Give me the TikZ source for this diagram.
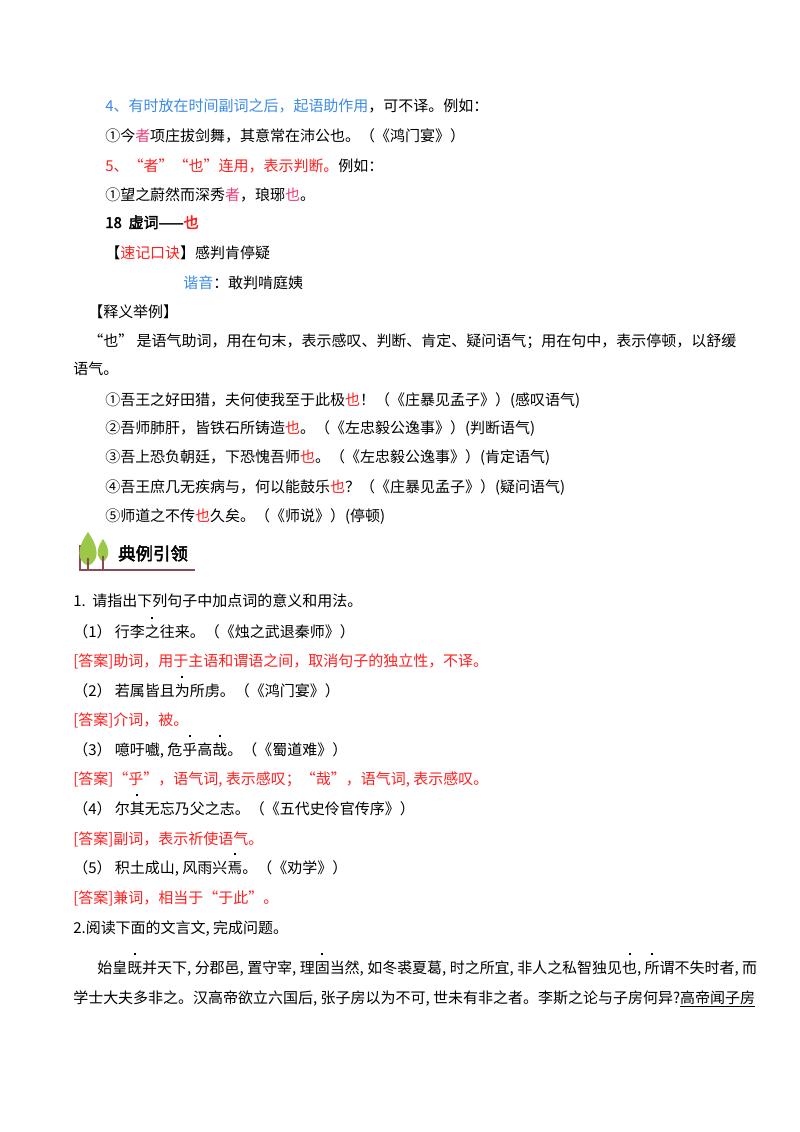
\documentclass[tikz,border=0pt]{standalone}
\usepackage{fontspec}
\setmainfont[AutoFakeBold=2.5]{Noto Sans CJK SC}
\definecolor{bl}{HTML}{3C8CE6}
\definecolor{rd}{HTML}{FF2020}
\definecolor{pk}{HTML}{F03C78}
\definecolor{lf}{HTML}{9CC84A}
\definecolor{br}{HTML}{8C4A55}
\newcommand\Bc[1]{\textcolor{bl}{#1}}
\newcommand\Rc[1]{\textcolor{rd}{#1}}
\newcommand\Pc[1]{\textcolor{pk}{#1}}
\newcommand\dt[1]{\ooalign{#1\cr\hidewidth\raisebox{1.18em}{\rule{1.4pt}{1.4pt}}\hidewidth\cr}}
\begin{document}
\begin{tikzpicture}[x=0.747pt,y=0.747pt,
  ln/.style={anchor=base west,inner sep=0pt,font=\fontsize{11.2}{13}\selectfont}]
\useasboundingbox (0,0) rectangle (800,-1132);
\fill[white] (0,0) rectangle (800,-1132);
\node[ln] (l1) at (105,-111) {\Bc{4、有时放在时间副词之后，起语助作用}，可不译。例如：};
\node[ln] (l2) at (105,-141) {①今\Pc{者}项庄拔剑舞，其意常在沛公也。（《鸿门宴》）};
\node[ln] (l3) at (105,-171) {\Rc{5、“者”“也”连用，表示判断。}例如：};
\node[ln] (l4) at (105,-200) {①望之蔚然而深秀\Pc{者}，琅琊\Pc{也}。};
\node[ln] (l5) at (105,-228) {\textbf{18\ \ 虚词——\Rc{也}}};
\node[ln] (l6) at (105,-258) {【\Rc{速记口诀}】感判肯停疑};
\node[ln] (l7) at (183,-288) {\Bc{谐音}：敢判啃庭姨};
\node[ln] (l8) at (88,-317) {【释义举例】};
\node[ln] (l9) at (88,-346) {“也” 是语气助词，用在句末，表示感叹、判断、肯定、疑问语气；用在句中，表示停顿，以舒缓};
\node[ln] (l10) at (73,-374) {语气。};
\node[ln] (l11) at (105,-405) {①吾王之好田猎，夫何使我至于此极\Rc{也}！（《庄暴见孟子》）(感叹语气)};
\node[ln] (l12) at (105,-433) {②吾师肺肝，皆铁石所铸造\Rc{也}。（《左忠毅公逸事》）(判断语气)};
\node[ln] (l13) at (105,-462) {③吾上恐负朝廷，下恐愧吾师\Rc{也}。（《左忠毅公逸事》）(肯定语气)};
\node[ln] (l14) at (105,-492) {④吾王庶几无疾病与，何以能鼓乐\Rc{也}？（《庄暴见孟子》）(疑问语气)};
\node[ln] (l15) at (105,-521) {⑤师道之不传\Rc{也}久矣。（《师说》）(停顿)};
% icon
\draw[br,line width=1.2pt] (80,-545) -- (80,-570) -- (195,-570);
\fill[lf] (88,-566) .. controls (76,-560) and (77,-548) .. (88,-532) .. controls (99,-548) and (100,-560) .. (88,-566) -- cycle;
\fill[lf] (103,-562) .. controls (96,-557) and (96,-549) .. (103,-539) .. controls (110,-549) and (110,-557) .. (103,-562) -- cycle;
\draw[br,line width=1pt] (88,-558) -- (88,-570) (103,-556) -- (103,-570);
\node[anchor=base west,inner sep=0pt,font=\fontsize{13}{15}\selectfont\bfseries] (ic) at (118,-560) {典例引领};
\node[ln] (q1) at (73,-606) {1.\ \ 请指出下列句子中加点词的意义和用法。};
\node[ln] (q2) at (73,-637) {（1）\ 行李\dt{之}往来。（《烛之武退秦师》）};
\node[ln] (q3) at (73,-666) {\Rc{[答案]助词，用于主语和谓语之间，取消句子的独立性，不译。}};
\node[ln] (q4) at (73,-696) {（2）\ 若属皆且\dt{为}所虏。（《鸿门宴》）};
\node[ln] (q5) at (73,-725) {\Rc{[答案]介词，被。}};
\node[ln] (q6) at (73,-755) {（3）\ 噫吁嚱, 危\dt{乎}高\dt{哉}。（《蜀道难》）};
\node[ln] (q7) at (73,-784) {\Rc{[答案]“乎”，语气词, 表示感叹；“哉”，语气词, 表示感叹。}};
\node[ln] (q8) at (73,-814) {（4）\ 尔\dt{其}无忘乃父之志。（《五代史伶官传序》）};
\node[ln] (q9) at (73,-844) {\Rc{[答案]副词，表示祈使语气。}};
\node[ln] (q10) at (73,-873) {（5）\ 积土成山, 风雨兴\dt{焉}。（《劝学》）};
\node[ln] (q11) at (73,-903) {\Rc{[答案]兼词，相当于“于此”。}};
\node[ln] (q12) at (73,-933) {2.阅读下面的文言文, 完成问题。};
\node[ln] (p1) at (97,-973) {始皇\dt{既}并天下, 分郡邑, 置守宰, 理\dt{固}当然, 如冬裘夏葛, 时之所宜, 非人之私智独见\dt{也}, \dt{所}谓不失时者, 而};
\node[ln] (p2) at (73,-1003) {学士大夫多非之。汉高帝欲立六国后, 张子房以为不可, 世未有非之者。李斯之论与子房何异?\underline{高帝闻子房}};
\end{tikzpicture}
\end{document}
